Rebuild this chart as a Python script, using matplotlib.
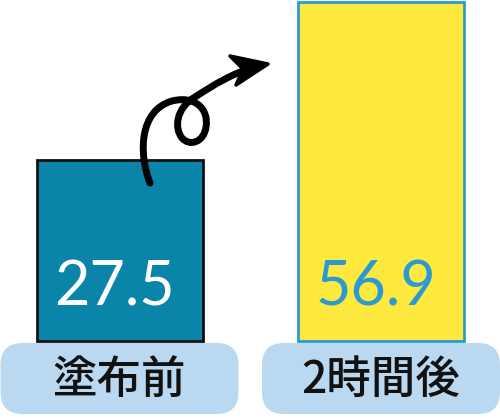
import numpy as np
import matplotlib
matplotlib.use('Agg')
import matplotlib.pyplot as plt
from matplotlib.patches import FancyBboxPatch, PathPatch, Polygon
from matplotlib.path import Path

# data
labels = ['塗布前', '2時間後']
values = [27.5, 56.9]

# styling
bar_colors = ['#0b84aa', '#fee93e']
edge_colors = ['#111111', '#2a9ad4']
value_colors = ['#ffffff', '#2a9ad4']
pill_color = '#bad9f1'

W, H = 500, 418
fig = plt.figure(figsize=(W / 100, H / 100), dpi=100)

# bar axes fills the whole figure, scale chosen to match the picture
px_x0, px_dx = 119.5, 261.5        # pixel centre of first bar, spacing
px_zero, px_unit = 307.8, 5.374    # pixel row of value 0, pixels per unit
base = -(341 - px_zero) / px_unit  # bars start a bit below zero (hidden base)

ax = fig.add_axes([0, 0, 1, 1])
ax.set_xlim(-px_x0 / px_dx, (W - px_x0) / px_dx)
ax.set_ylim(-(H - px_zero) / px_unit, px_zero / px_unit)
ax.axis('off')

x = np.arange(len(values))
heights = [v - base for v in values]
ax.bar(x, heights, bottom=base, width=166 / px_dx, color=bar_colors,
       edgecolor=edge_colors, linewidth=2.0, zorder=2)

for i, v in enumerate(values):
    ax.text(x[i] - 0.02, 0.35, f'{v}', ha='center', va='baseline',
            fontsize=44, family='Lato', color=value_colors[i], zorder=4)

# overlay in pixel coordinates for the pills and the arrow
ov = fig.add_axes([0, 0, 1, 1], zorder=3)
ov.set_xlim(0, W)
ov.set_ylim(H, 0)
ov.axis('off')
ov.patch.set_alpha(0)

for i, lab in enumerate(labels):
    cx = px_x0 + px_dx * i
    pill = FancyBboxPatch((cx - 119, 343), 238, 71,
                          boxstyle='round,pad=0,rounding_size=22',
                          facecolor=pill_color, edgecolor='none')
    ov.add_patch(pill)
    ov.text(cx, 380, lab, ha='center', va='center', fontsize=32,
            fontweight='medium', family=['Noto Sans CJK JP', 'DejaVu Sans'],
            color='#111111')

# curly arrow from the small bar to the tall one
verts = [(150, 183),
         (138, 152), (140, 110), (172, 101),
         (196, 95), (209, 110), (206, 127),
         (204, 142), (190, 147), (182, 138),
         (174, 128), (176, 108), (195, 97),
         (212, 86), (234, 72), (256, 67)]
codes = [Path.MOVETO] + [Path.CURVE4] * 15
ov.add_patch(PathPatch(Path(verts, codes), facecolor='none', edgecolor='black',
                       linewidth=5.0, capstyle='round', joinstyle='round'))
head = Polygon([(268, 64), (230, 56), (243, 69), (236, 85)], closed=True,
               facecolor='black', edgecolor='black', linewidth=2.5,
               joinstyle='round')
ov.add_patch(head)

fig.savefig('out.png', dpi=100)
